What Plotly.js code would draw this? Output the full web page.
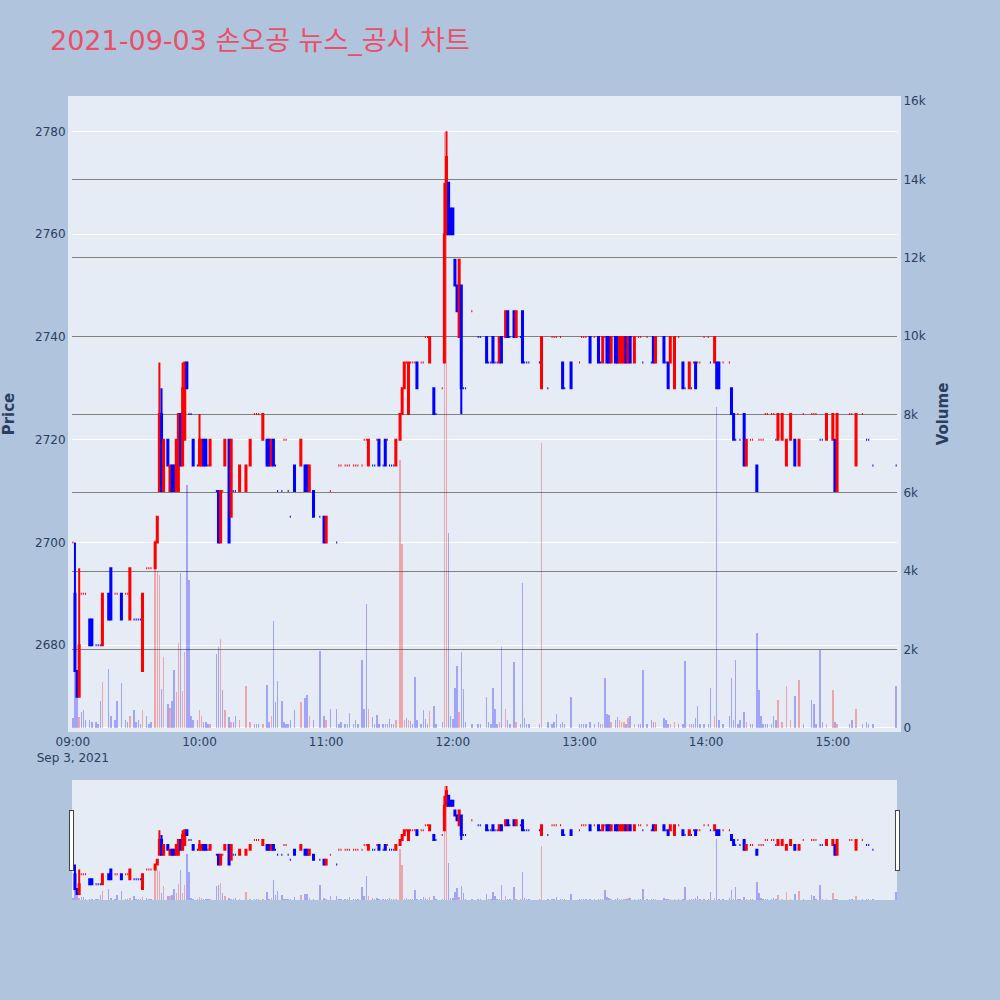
<!DOCTYPE html>
<html>
<head>
<meta charset="utf-8">
<script src="https://cdn.plot.ly/plotly-3.0.1.min.js"></script>
<style>html,body{margin:0;padding:0;background:#B0C4DE;}</style>
</head>
<body>
<div id="chart" style="width:1000px;height:1000px;"></div>
<script>
var day = '2021-09-03';
var times = [
 '09:00','09:01','09:02','09:03','09:04','09:05','09:06','09:08','09:09','09:11','09:12','09:13','09:14','09:17','09:18','09:20','09:21','09:23','09:25','09:26','09:27','09:29','09:30','09:31','09:32','09:33','09:35','09:36','09:37','09:39','09:40','09:41','09:42','09:43','09:45','09:46','09:47','09:48','09:49','09:50','09:51','09:52','09:53','09:54','09:55','09:56','09:57','09:59',
 '10:00','10:01','10:02','10:03','10:04','10:05','10:08','10:09','10:10','10:11','10:12','10:14','10:15','10:16','10:17','10:19','10:22','10:24','10:26','10:27','10:28','10:30','10:32','10:33','10:34','10:35','10:36','10:37','10:39','10:40','10:41','10:42','10:43','10:45','10:48','10:50','10:51','10:52','10:54','10:57','10:59',
 '11:00','11:02','11:05','11:06','11:07','11:09','11:10','11:11','11:13','11:14','11:15','11:17','11:18','11:19','11:20','11:22','11:23','11:24','11:25','11:27','11:28','11:29','11:30','11:31','11:32','11:33','11:35','11:36','11:37','11:38','11:39','11:40','11:41','11:42','11:43','11:45','11:46','11:47','11:48','11:49','11:51','11:52','11:55','11:56','11:57','11:58','11:59',
 '12:00','12:01','12:02','12:03','12:04','12:05','12:06','12:09','12:12','12:13','12:16','12:17','12:18','12:19','12:20','12:21','12:22','12:23','12:25','12:26','12:27','12:29','12:30','12:32','12:33','12:34','12:35','12:36','12:41','12:42','12:45','12:47','12:48','12:49','12:51','12:52','12:53','12:56',
 '13:00','13:01','13:02','13:03','13:05','13:07','13:09','13:10','13:11','13:12','13:13','13:14','13:15','13:17','13:18','13:19','13:20','13:21','13:22','13:23','13:24','13:26','13:28','13:29','13:30','13:32','13:34','13:35','13:36','13:40','13:41','13:42','13:43','13:45','13:47','13:49','13:50','13:52','13:53','13:54','13:55','13:56','13:57','13:59',
 '14:01','14:02','14:04','14:05','14:06','14:08','14:11','14:12','14:13','14:14','14:15','14:16','14:18','14:19','14:21','14:22','14:24','14:25','14:26','14:27','14:28','14:29','14:31','14:32','14:33','14:34','14:36','14:38','14:40','14:42','14:44','14:46','14:50','14:51','14:52','14:54','14:55','14:57',
 '15:00','15:01','15:02','15:08','15:09','15:11','15:14','15:16','15:17','15:19','15:30'
];
var open = [
 2700,2690,2675,2670,2690,2690,2690,2685,2685,2680,2680,2680,2680,2690,2695,2690,2690,2690,2690,2690,2685,2685,2685,2685,2685,2675,2695,2695,2695,2695,2700,2710,2725,2710,2720,2710,2715,2715,2710,2710,2725,2715,2720,2735,2725,2725,2720,2715,
 2715,2715,2720,2720,2715,2715,2710,2710,2700,2710,2715,2720,2705,2710,2710,2710,2710,2715,2725,2725,2725,2720,2720,2720,2715,2720,2715,2710,2710,2720,2720,2710,2705,2715,2715,2715,2715,2710,2710,2705,2705,
 2700,2710,2700,2715,2715,2715,2715,2715,2715,2715,2715,2715,2720,2720,2715,2715,2715,2720,2720,2715,2720,2720,2715,2715,2715,2715,2720,2725,2730,2735,2725,2735,2735,2735,2735,2735,2735,2740,2740,2735,2730,2725,2730,2735,2760,2770,2765,
 2765,2755,2750,2740,2750,2730,2730,2745,2740,2740,2740,2735,2735,2740,2735,2735,2735,2740,2740,2745,2740,2745,2740,2740,2745,2735,2735,2735,2735,2730,2730,2740,2740,2740,2740,2735,2730,2735,
 2735,2740,2740,2740,2740,2740,2740,2735,2735,2740,2740,2740,2735,2740,2740,2735,2735,2735,2740,2735,2740,2735,2740,2740,2735,2740,2735,2740,2735,2740,2735,2735,2735,2730,2740,2735,2730,2730,2730,2735,2735,2735,2735,2740,
 2740,2735,2735,2735,2735,2735,2735,2730,2725,2720,2725,2720,2725,2715,2720,2720,2715,2720,2720,2720,2725,2725,2725,2725,2720,2720,2720,2715,2720,2720,2715,2725,2725,2725,2725,2720,2720,2720,
 2720,2720,2710,2725,2725,2715,2725,2720,2720,2715,2715
];
var high = [
 2700,2700,2675,2695,2690,2690,2690,2685,2685,2680,2680,2680,2690,2690,2695,2690,2690,2690,2690,2690,2695,2685,2685,2685,2685,2690,2695,2695,2695,2700,2705,2735,2730,2720,2720,2715,2715,2715,2720,2725,2725,2735,2735,2735,2725,2725,2720,2715,
 2725,2720,2720,2720,2715,2720,2710,2710,2710,2710,2720,2720,2720,2710,2710,2715,2715,2720,2725,2725,2725,2725,2720,2720,2720,2720,2715,2710,2710,2720,2720,2710,2705,2715,2720,2715,2715,2715,2710,2705,2705,
 2705,2710,2700,2715,2715,2715,2715,2715,2715,2715,2715,2715,2720,2720,2720,2715,2715,2720,2720,2715,2720,2720,2715,2715,2715,2720,2725,2730,2735,2735,2735,2735,2735,2735,2735,2735,2735,2740,2740,2740,2730,2725,2730,2770,2780,2770,2765,
 2765,2755,2750,2755,2750,2730,2730,2745,2740,2740,2740,2735,2735,2740,2735,2735,2740,2740,2745,2745,2740,2745,2745,2740,2745,2735,2735,2735,2735,2740,2730,2740,2740,2740,2740,2735,2730,2735,
 2735,2740,2740,2740,2740,2740,2740,2735,2740,2740,2740,2740,2740,2740,2740,2740,2740,2740,2740,2740,2740,2740,2740,2740,2735,2740,2735,2740,2740,2740,2735,2735,2740,2740,2740,2735,2730,2735,2730,2735,2735,2735,2735,2740,
 2740,2735,2740,2735,2735,2735,2735,2730,2725,2720,2725,2720,2725,2720,2720,2720,2715,2720,2720,2720,2725,2725,2725,2725,2720,2725,2725,2720,2725,2720,2720,2725,2725,2725,2725,2720,2720,2725,
 2725,2720,2725,2725,2725,2725,2725,2720,2720,2715,2715
];
var low = [
 2700,2675,2670,2670,2690,2690,2690,2680,2680,2680,2680,2680,2680,2685,2685,2690,2690,2685,2690,2690,2685,2685,2685,2685,2685,2675,2695,2695,2695,2695,2700,2710,2710,2710,2715,2710,2710,2710,2710,2710,2715,2715,2720,2730,2725,2725,2715,2715,
 2715,2715,2715,2715,2715,2715,2710,2700,2700,2710,2715,2700,2705,2710,2710,2710,2710,2715,2725,2725,2725,2720,2715,2715,2715,2715,2715,2710,2710,2720,2720,2710,2705,2710,2715,2710,2710,2710,2705,2705,2700,
 2700,2710,2700,2715,2715,2715,2715,2715,2715,2715,2715,2715,2720,2720,2715,2715,2715,2720,2715,2715,2715,2720,2715,2715,2715,2715,2720,2725,2730,2735,2725,2735,2735,2735,2730,2735,2735,2740,2740,2735,2725,2725,2730,2735,2760,2760,2760,
 2760,2750,2745,2740,2725,2730,2730,2745,2740,2740,2735,2735,2735,2735,2735,2735,2735,2735,2740,2740,2740,2740,2740,2740,2735,2735,2735,2735,2735,2730,2730,2740,2740,2740,2740,2730,2730,2730,
 2735,2740,2740,2740,2735,2740,2735,2735,2735,2740,2735,2735,2735,2735,2735,2735,2735,2735,2735,2735,2735,2735,2740,2740,2735,2740,2735,2735,2735,2735,2735,2730,2735,2730,2740,2730,2730,2730,2730,2735,2730,2735,2735,2740,
 2740,2735,2735,2730,2730,2735,2735,2725,2720,2720,2725,2720,2715,2715,2720,2720,2710,2720,2720,2720,2725,2725,2725,2725,2720,2720,2720,2715,2720,2715,2715,2725,2725,2725,2725,2720,2720,2720,
 2720,2710,2710,2725,2725,2715,2725,2720,2720,2715,2715
];
var close = [
 2700,2675,2670,2680,2690,2690,2690,2680,2680,2680,2680,2680,2690,2685,2685,2690,2690,2685,2690,2690,2695,2685,2685,2685,2685,2690,2695,2695,2695,2700,2705,2725,2710,2720,2715,2715,2710,2710,2720,2725,2715,2730,2735,2730,2725,2725,2715,2715,
 2720,2720,2715,2715,2715,2720,2710,2700,2710,2710,2720,2700,2720,2710,2710,2715,2715,2720,2725,2725,2725,2725,2715,2715,2720,2715,2715,2710,2710,2720,2720,2710,2705,2710,2720,2710,2710,2715,2705,2705,2700,
 2705,2710,2700,2715,2715,2715,2715,2715,2715,2715,2715,2715,2720,2720,2720,2715,2715,2720,2715,2715,2715,2720,2715,2715,2715,2720,2725,2730,2735,2735,2735,2735,2735,2735,2730,2735,2735,2740,2740,2740,2725,2725,2730,2760,2775,2760,2760,
 2760,2750,2745,2755,2730,2730,2730,2745,2740,2740,2735,2735,2735,2735,2735,2735,2740,2735,2745,2740,2740,2740,2745,2740,2735,2735,2735,2735,2735,2740,2730,2740,2740,2740,2740,2730,2730,2730,
 2735,2740,2740,2740,2735,2740,2735,2735,2740,2740,2735,2735,2740,2735,2735,2740,2740,2740,2735,2740,2735,2740,2740,2740,2735,2740,2735,2735,2740,2735,2735,2730,2740,2740,2740,2730,2730,2735,2730,2735,2730,2735,2735,2740,
 2740,2735,2740,2730,2730,2735,2735,2725,2720,2720,2725,2720,2715,2720,2720,2720,2710,2720,2720,2720,2725,2725,2725,2725,2720,2725,2725,2720,2725,2715,2720,2725,2725,2725,2725,2720,2720,2725,
 2725,2710,2725,2725,2725,2725,2725,2720,2720,2715,2715
];
var volume = [
 250,2170,840,290,400,450,200,200,150,150,100,690,1170,1500,300,200,700,1150,200,150,300,470,150,200,100,450,300,100,150,4800,4000,3900,1000,1810,600,500,700,1480,920,2170,3950,940,1940,6200,3770,300,200,200,
 460,300,150,150,100,100,1900,2070,2270,970,470,290,150,150,300,200,1070,150,100,100,100,100,1100,150,300,2730,660,1200,680,150,100,100,200,460,660,770,850,300,200,1960,300,
 200,485,485,100,150,100,100,380,100,195,100,1730,485,3160,485,280,100,330,100,100,100,100,230,100,100,200,6830,4700,200,260,200,170,100,1300,200,100,460,220,100,425,550,100,150,15200,14500,4970,300,
 220,1020,1590,400,1930,1000,150,100,100,100,790,150,100,1020,485,100,150,2070,485,200,100,1680,150,100,3700,250,100,100,100,7270,150,100,150,350,100,150,100,800,
 100,100,100,100,150,100,150,100,100,1270,350,330,150,200,270,200,150,150,100,250,300,100,100,100,1480,100,200,150,150,250,200,100,100,150,100,100,1700,100,100,100,255,560,100,100,
 100,1020,300,8190,200,100,300,1270,200,1730,100,200,400,150,100,100,2420,970,300,100,100,100,100,300,200,710,150,1070,200,820,1220,100,710,600,100,1990,150,100,
 970,150,100,100,200,485,100,150,100,100,1070
];

var xs = times.map(function(t){ return day + ' ' + t + ':00'; });
var volColors = close.map(function(c, i){ return c > open[i] ? 'rgba(255,0,0,0.3)' : 'rgba(0,0,255,0.3)'; });

var xRange = [day + ' 08:59:36', day + ' 15:30:24'];
var FONT = '"DejaVu Sans", "Noto Sans CJK KR", verdana, arial, sans-serif';
var BG = '#E5ECF6';

var candle = {
  type: 'candlestick', x: xs, open: open, high: high, low: low, close: close,
  increasing: {line: {color: 'red', width: 2}, fillcolor: 'red'},
  decreasing: {line: {color: 'blue', width: 2}, fillcolor: 'blue'},
  xaxis: 'x', yaxis: 'y', name: 'Price', showlegend: false
};
var bars = {
  type: 'bar', x: xs, y: volume, marker: {color: volColors, line: {width: 0}},
  width: 40000, xaxis: 'x', yaxis: 'y2', name: 'Volume', showlegend: false
};

var layout = {
  width: 1000, height: 1000,
  paper_bgcolor: '#B0C4DE', plot_bgcolor: BG,
  font: {family: FONT, color: '#2a3f5f', size: 12},
  title: {text: '2021-09-03 손오공 뉴스_공시 차트', x: 0.05, xanchor: 'left',
          font: {size: 27, color: '#EB4F68', family: FONT}},
  margin: {l: 72, r: 103, t: 100, b: 100},
  showlegend: false,
  bargap: 0,
  xaxis: {type: 'date', range: xRange, showgrid: false, zeroline: false,
          showline: true, linewidth: 4, linecolor: BG, mirror: true,
          rangeslider: {visible: true, range: xRange, bgcolor: BG, thickness: 0.15}},
  yaxis: {title: {text: '<b>Price</b>', font: {size: 15}, standoff: 18}, range: [2663.9, 2786.1], dtick: 20,
          gridcolor: 'white', zeroline: false, showline: true, linewidth: 4, linecolor: BG, mirror: true},
  yaxis2: {title: {text: '<b>Volume</b>', font: {size: 15}, standoff: 14}, overlaying: 'y', side: 'right',
           range: [0, 16025], dtick: 2000, gridcolor: 'grey', showgrid: true,
           zeroline: true, zerolinecolor: 'white', zerolinewidth: 2,
           showline: true, linewidth: 4, linecolor: BG}
};

Plotly.newPlot('chart', [candle, bars], layout, {displayModeBar: false, staticPlot: true});
</script>
</body>
</html>
